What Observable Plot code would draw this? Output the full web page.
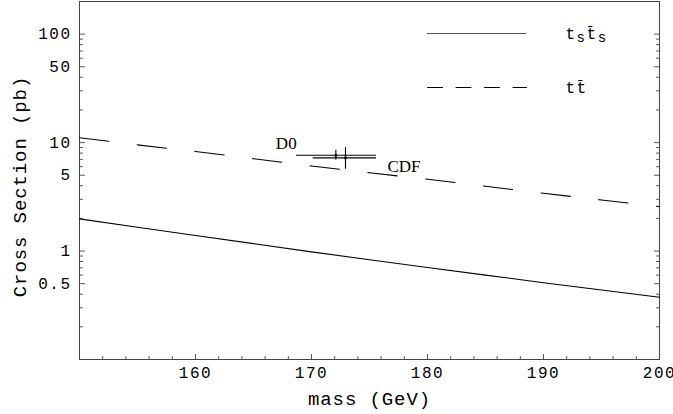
<!DOCTYPE html>
<html><head><meta charset="utf-8">
<script src="https://cdn.jsdelivr.net/npm/d3@7"></script>
<script src="https://cdn.jsdelivr.net/npm/@observablehq/plot@0.6"></script>
<style>body{margin:0;background:#fff;}</style>
</head><body><div id="chart"></div>
<script>
// Theory curves (pb) vs top mass (GeV)
const massGrid = [150, 155, 160, 165, 170, 175, 180, 185, 190, 195, 200];
const sigmaTsTs = [1.98, 1.66, 1.39, 1.17, 0.983, 0.832, 0.705, 0.600, 0.511, 0.437, 0.375];
const sigmaTTbar = [11.1, 9.53, 8.28, 7.10, 6.08, 5.27, 4.59, 3.96, 3.41, 2.96, 2.57];

// Measurements
const expNames = ["D0", "CDF"];
const expMass = [172.1, 172.93];
const expMassLow = [168.7, 170.15];
const expMassHigh = [175.6, 175.6];
const expSigma = [7.64, 7.23];
const expSigmaLow = [6.88, 5.68];
const expSigmaHigh = [8.50, 9.00];

// Ticks
const yMajorTicks = [0.5, 1, 5, 10, 50, 100];
const yMinorTicks = [0.2, 0.3, 0.4, 0.6, 0.7, 0.8, 0.9, 2, 3, 4, 6, 7, 8, 9, 20, 30, 40, 60, 70, 80, 90];
const xMajorTicks = [160, 170, 180, 190, 200];
const xMinorTicks = [152, 154, 156, 158, 162, 164, 166, 168, 172, 174, 176, 178, 182, 184, 186, 188, 192, 194, 196, 198];

const seriesNames = ["tsts", "ttbar"];
const xLabel = "mass (GeV)";
const yLabel = "Cross Section (pb)";

const curveTsTs = massGrid.map((m, i) => ({mass: m, sigma: sigmaTsTs[i]}));
const curveTTbar = massGrid.map((m, i) => ({mass: m, sigma: sigmaTTbar[i]}));
const exps = expNames.map((n, i) => ({name: n, mass: expMass[i], mlo: expMassLow[i], mhi: expMassHigh[i],
  sigma: expSigma[i], slo: expSigmaLow[i], shi: expSigmaHigh[i]}));

const axisColor = "#555";
const lineShape = {draw(context, l) { context.moveTo(0, 0); context.lineTo(0, -l); }};
const tickOpts = {anchor: "start", shape: lineShape, stroke: axisColor, strokeWidth: 1};

const chart = Plot.plot({
  width: 673,
  height: 414,
  marginLeft: 79,
  marginRight: 14,
  marginTop: 1,
  marginBottom: 55,
  style: {fontFamily: "Liberation Mono, DejaVu Sans Mono, monospace", fontSize: "16px", background: "#fff", color: "#000"},
  x: {domain: [150, 200], axis: null},
  y: {type: "log", domain: [0.1, 200], axis: null},
  marks: [
    // ticks (inward), left, right and bottom
    Plot.vector(yMajorTicks, {y: d => d, frameAnchor: "left", length: 5, rotate: 90, ...tickOpts}),
    Plot.vector(yMinorTicks, {y: d => d, frameAnchor: "left", length: 3, rotate: 90, ...tickOpts}),
    Plot.vector(yMajorTicks, {y: d => d, frameAnchor: "right", length: 5, rotate: -90, ...tickOpts}),
    Plot.vector(yMinorTicks, {y: d => d, frameAnchor: "right", length: 3, rotate: -90, ...tickOpts}),
    Plot.vector(xMajorTicks, {x: d => d, frameAnchor: "bottom", length: 5, rotate: 0, ...tickOpts}),
    Plot.vector(xMinorTicks, {x: d => d, frameAnchor: "bottom", length: 3, rotate: 0, ...tickOpts}),
    // tick labels
    Plot.text(yMajorTicks, {y: d => d, text: d => String(d), frameAnchor: "left", textAnchor: "end", lineAnchor: "middle", dx: -8}),
    Plot.text(xMajorTicks, {x: d => d, text: d => String(d), frameAnchor: "bottom", textAnchor: "middle", lineAnchor: "middle", dy: 13}),
    Plot.frame({stroke: "#444"}),
    // axis titles
    Plot.text([yLabel], {frameAnchor: "left", rotate: -90, textAnchor: "middle", lineAnchor: "middle", dx: -60, dy: 6, fontSize: 19}),
    Plot.text([xLabel], {frameAnchor: "bottom", textAnchor: "middle", lineAnchor: "middle", dy: 39, fontSize: 19}),
    // curves
    Plot.line(curveTsTs, {x: "mass", y: "sigma", stroke: "#000", strokeWidth: 1.1}),
    Plot.line(curveTTbar, {x: "mass", y: "sigma", stroke: "#000", strokeWidth: 1.1, strokeDasharray: "29.5,28.6"}),
    // measurements
    Plot.ruleY(exps, {y: "sigma", x1: "mlo", x2: "mhi", stroke: "#000", strokeWidth: 1.1}),
    Plot.ruleX(exps, {x: "mass", y1: "slo", y2: "shi", stroke: "#000", strokeWidth: 1.1}),
    Plot.dot(exps, {x: "mass", y: "sigma", r: 1.5, fill: "#000", stroke: null}),
    Plot.text(exps.slice(0, 1), {x: "mass", y: "sigma", text: "name", textAnchor: "start", lineAnchor: "middle", dx: -60, dy: -12, fontFamily: "Liberation Serif, serif", fontSize: 17}),
    Plot.text(exps.slice(1, 2), {x: "mass", y: "sigma", text: "name", textAnchor: "start", lineAnchor: "middle", dx: 42, dy: 9, fontFamily: "Liberation Serif, serif", fontSize: 17}),
    // legend
    Plot.vector([seriesNames[0]], {frameAnchor: "top-right", dx: -232, dy: 32, length: 98, rotate: 90, anchor: "start", shape: lineShape, stroke: "#555", strokeWidth: 1.2}),
    Plot.vector([seriesNames[1]], {frameAnchor: "top-right", dx: -232, dy: 86, length: 99, rotate: 90, anchor: "start", shape: lineShape, stroke: "#000", strokeWidth: 1.1, strokeDasharray: "15,13.5"}),
    Plot.text([seriesNames[0]], {frameAnchor: "top-right", dx: -94, dy: 32, textAnchor: "start", lineAnchor: "middle", text: d => d}),
    Plot.text([seriesNames[1]], {frameAnchor: "top-right", dx: -94, dy: 86, textAnchor: "start", lineAnchor: "middle", text: d => d})
  ]
});

// letter-spacing for monospace texts and rich legend labels
d3.select(chart).selectAll("text").each(function() {
  const t = d3.select(this);
  const s = this.textContent;
  if (expNames.includes(s)) { t.style("letter-spacing", "0px"); return; }
  if (s === xLabel || s === yLabel) t.style("letter-spacing", "0.9px");
  else t.style("letter-spacing", "1.5px");
  if (s === "tsts") {
    t.text(null);
    t.append("tspan").text("t");
    t.append("tspan").attr("dy", 3).attr("font-size", 14).text("s");
    t.append("tspan").attr("dy", -3).text("t\u0304");
    t.append("tspan").attr("dy", 3).attr("font-size", 14).text("s");
  } else if (s === "ttbar") {
    t.text(null);
    t.append("tspan").text("t");
    t.append("tspan").text("t\u0304");
  }
});

document.getElementById("chart").appendChild(chart);
</script>
</body></html>
